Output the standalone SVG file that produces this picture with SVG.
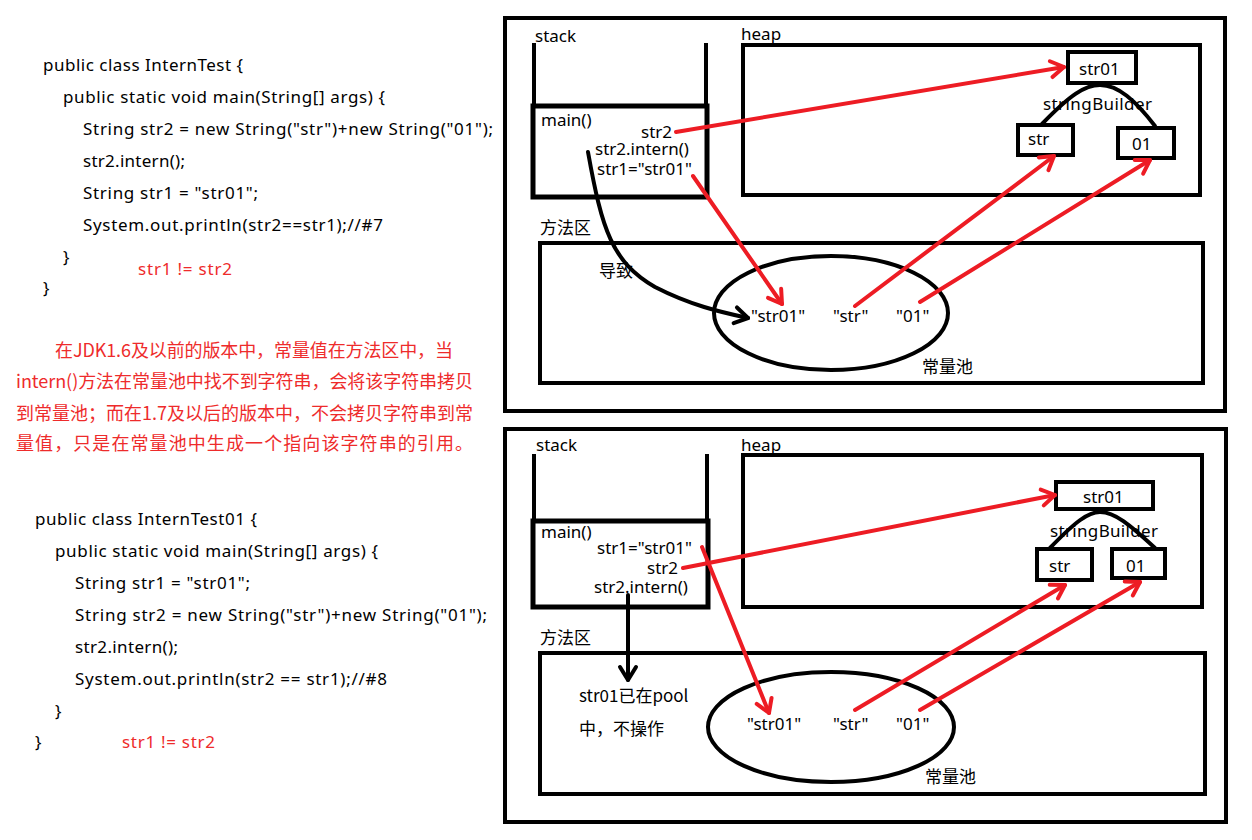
<svg xmlns="http://www.w3.org/2000/svg" width="1252" height="840" viewBox="0 0 1252 840">
<defs>
<style>
.code{font-family:"Noto Sans","Noto Sans CJK SC",sans-serif;font-size:17px;fill:#000}
.red{fill:#ee2b2b}
.zh{font-family:"Noto Sans CJK SC","Noto Sans",sans-serif;font-size:18px;fill:#ee2b2b}
.lbl{font-family:"Noto Sans","Noto Sans CJK SC",sans-serif;font-size:17px;fill:#000}
.zl{font-family:"Noto Sans CJK SC","Noto Sans",sans-serif;font-size:17px;fill:#000}
.box{fill:none;stroke:#000;stroke-width:4}
.thick{fill:none;stroke:#000;stroke-width:5}
.rl{fill:none;stroke:#ED1C24;stroke-width:4;stroke-linecap:round}
.bl{fill:none;stroke:#000;stroke-width:4;stroke-linecap:round}
</style>
<marker id="ahr" markerUnits="userSpaceOnUse" markerWidth="30" markerHeight="30" viewBox="-20 -15 30 30" refX="0" refY="0" orient="auto" overflow="visible">
<path d="M-13,-8 L0,0 L-13,8" fill="none" stroke="#ED1C24" stroke-width="4" stroke-linecap="round" stroke-linejoin="round"/>
</marker>
<marker id="ahb" markerUnits="userSpaceOnUse" markerWidth="30" markerHeight="30" viewBox="-20 -15 30 30" refX="0" refY="0" orient="auto" overflow="visible">
<path d="M-13,-8 L0,0 L-13,8" fill="none" stroke="#000" stroke-width="4" stroke-linecap="round" stroke-linejoin="round"/>
</marker>
</defs>
<rect width="1252" height="840" fill="#fff"/>

<g id="code-top">
<text class="code" x="43" y="71" textLength="200" lengthAdjust="spacing">public class InternTest {</text>
<text class="code" x="63" y="103" textLength="322" lengthAdjust="spacing">public static void main(String[] args) {</text>
<text class="code" x="83" y="135" textLength="410" lengthAdjust="spacing">String str2 = new String("str")+new String("01");</text>
<text class="code" x="83" y="167" textLength="102" lengthAdjust="spacing">str2.intern();</text>
<text class="code" x="83" y="199" textLength="175" lengthAdjust="spacing">String str1 = "str01";</text>
<text class="code" x="83" y="231" textLength="300" lengthAdjust="spacing">System.out.println(str2==str1);//#7</text>
<text class="code" x="63" y="263">}</text>
<text class="code red" x="138" y="275" textLength="94" lengthAdjust="spacing">str1 != str2</text>
<text class="code" x="43" y="294">}</text>
</g>

<g id="note">
<text class="zh" x="55" y="357" textLength="398" lengthAdjust="spacing">在JDK1.6及以前的版本中，常量值在方法区中，当</text>
<text class="zh" x="16" y="388" textLength="457" lengthAdjust="spacing">intern()方法在常量池中找不到字符串，会将该字符串拷贝</text>
<text class="zh" x="16" y="420" textLength="457" lengthAdjust="spacing">到常量池；而在1.7及以后的版本中，不会拷贝字符串到常</text>
<text class="zh" x="16" y="450" textLength="457" lengthAdjust="spacing">量值，只是在常量池中生成一个指向该字符串的引用。</text>
</g>

<g id="code-bottom">
<text class="code" x="35" y="525" textLength="222" lengthAdjust="spacing">public class InternTest01 {</text>
<text class="code" x="55" y="557" textLength="323" lengthAdjust="spacing">public static void main(String[] args) {</text>
<text class="code" x="75" y="589" textLength="175" lengthAdjust="spacing">String str1 = "str01";</text>
<text class="code" x="75" y="621" textLength="412" lengthAdjust="spacing">String str2 = new String("str")+new String("01");</text>
<text class="code" x="75" y="653" textLength="103" lengthAdjust="spacing">str2.intern();</text>
<text class="code" x="75" y="685" textLength="312" lengthAdjust="spacing">System.out.println(str2 == str1);//#8</text>
<text class="code" x="55" y="717">}</text>
<text class="code" x="35" y="748">}</text>
<text class="code red" x="122" y="748" textLength="93" lengthAdjust="spacing">str1 != str2</text>
</g>

<!-- top panel -->
<g id="top-panel">
<rect class="box" x="505" y="18" width="720" height="393"/>
</g>
<g id="top-stack">
<text class="lbl" x="535" y="42">stack</text>
<line class="box" x1="534" y1="43" x2="534" y2="105"/>
<line class="box" x1="706" y1="43" x2="706" y2="105"/>
<rect class="thick" x="533" y="106" width="174" height="91"/>
<text class="lbl" x="541" y="126">main()</text>
<text class="lbl" x="641" y="138">str2</text>
<text class="lbl" x="595" y="155">str2.intern()</text>
<text class="lbl" x="597" y="175">str1="str01"</text>
</g>
<g id="top-heap">
<text class="lbl" x="741" y="40">heap</text>
<rect class="box" x="743" y="45" width="457" height="150"/>
<text class="lbl" x="1043" y="110" textLength="109" lengthAdjust="spacing">stringBuilder</text>
<path class="bl" d="M1042,124 C1070,95 1085,85 1100,85 C1118,85 1135,100 1155,126"/>
<rect class="box" x="1068" y="52" width="68" height="31" fill="#fff" style="fill:#fff"/>
<text class="lbl" x="1079" y="75">str01</text>
<rect class="box" x="1018" y="125" width="55" height="30" style="fill:#fff"/>
<text class="lbl" x="1028" y="145">str</text>
<rect class="box" x="1118" y="128" width="56" height="30" style="fill:#fff"/>
<text class="lbl" x="1132" y="150">01</text>
</g>
<g id="top-method">
<text class="zl" x="540" y="234">方法区</text>
<rect class="box" x="540" y="243" width="663" height="140"/>
<ellipse cx="831" cy="313" rx="117" ry="57" fill="none" stroke="#000" stroke-width="4"/>
<text class="zl" x="599" y="277">导致</text>
<text class="lbl" x="751" y="322">"str01"</text>
<text class="lbl" x="833" y="322">"str"</text>
<text class="lbl" x="896" y="322">"01"</text>
<text class="zl" x="922" y="373">常量池</text>
</g>

<!-- bottom panel -->
<g id="bottom-panel">
<rect class="box" x="505" y="429" width="721" height="393"/>
</g>
<g id="bottom-stack">
<text class="lbl" x="536" y="451">stack</text>
<line class="box" x1="534" y1="454" x2="534" y2="520"/>
<line class="box" x1="707" y1="454" x2="707" y2="520"/>
<rect class="thick" x="533" y="521" width="175" height="86"/>
<text class="lbl" x="541" y="538">main()</text>
<text class="lbl" x="597" y="554">str1="str01"</text>
<text class="lbl" x="647" y="574">str2</text>
<text class="lbl" x="594" y="593">str2.intern()</text>
</g>
<g id="bottom-heap">
<text class="lbl" x="741" y="451">heap</text>
<rect class="box" x="743" y="455" width="459" height="152"/>
<text class="lbl" x="1050" y="537" textLength="108" lengthAdjust="spacing">stringBuilder</text>
<path class="bl" d="M1050,548 C1075,522 1088,512 1100,512 C1115,512 1130,525 1155,548"/>
<rect class="box" x="1056" y="482" width="97" height="27" style="fill:#fff"/>
<text class="lbl" x="1083" y="503">str01</text>
<rect class="box" x="1037" y="549" width="55" height="31" style="fill:#fff"/>
<text class="lbl" x="1049" y="572">str</text>
<rect class="box" x="1112" y="549" width="53" height="29" style="fill:#fff"/>
<text class="lbl" x="1126" y="572">01</text>
</g>
<g id="bottom-method">
<text class="zl" x="540" y="644">方法区</text>
<rect class="box" x="540" y="653" width="665" height="141"/>
<ellipse cx="831" cy="727" rx="123" ry="55" fill="none" stroke="#000" stroke-width="4"/>
<text class="zl" x="579" y="702">str01已在pool</text>
<text class="zl" x="579" y="735">中，不操作</text>
<text class="lbl" x="747" y="730">"str01"</text>
<text class="lbl" x="833" y="730">"str"</text>
<text class="lbl" x="896" y="730">"01"</text>
<text class="zl" x="925" y="783">常量池</text>
</g>

<g id="connectors">
<path class="bl" d="M588,152 C602,230 612,262 655,287 C690,305 720,312 748,318" marker-end="url(#ahb)"/>
<line class="rl" x1="676" y1="132" x2="1064" y2="67" marker-end="url(#ahr)"/>
<line class="rl" x1="693" y1="176" x2="782" y2="304" marker-end="url(#ahr)"/>
<line class="rl" x1="855" y1="306" x2="1054" y2="156" marker-end="url(#ahr)"/>
<line class="rl" x1="920" y1="302" x2="1150" y2="160" marker-end="url(#ahr)"/>

<line class="bl" x1="628" y1="595" x2="628" y2="680" marker-end="url(#ahb)"/>
<line class="rl" x1="683" y1="568" x2="1055" y2="495" marker-end="url(#ahr)"/>
<line class="rl" x1="702" y1="547" x2="769" y2="713" marker-end="url(#ahr)"/>
<line class="rl" x1="855" y1="710" x2="1065" y2="585" marker-end="url(#ahr)"/>
<line class="rl" x1="920" y1="710" x2="1140" y2="582" marker-end="url(#ahr)"/>
</g>
</svg>
